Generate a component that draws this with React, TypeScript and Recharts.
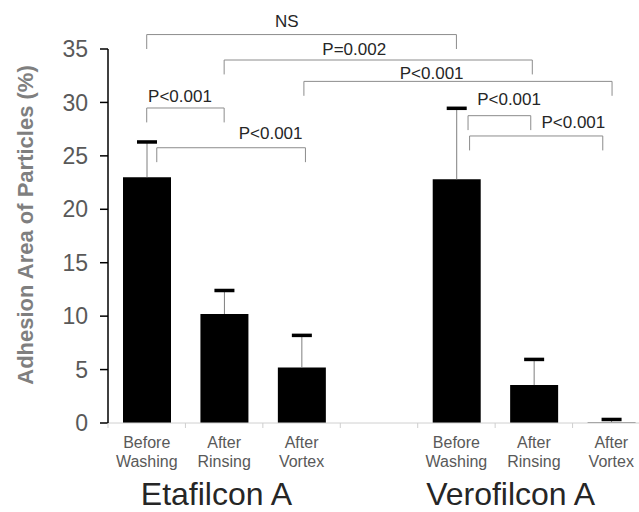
import React from 'react';
import { BarChart, Bar, XAxis, YAxis, ReferenceLine, ReferenceDot } from 'recharts';

const conditions = ['Before Washing', 'After Rinsing', 'After Vortex'];
const lenses = ['Etafilcon A', 'Verofilcon A'];
const etafilconMean = [23.0, 10.2, 5.2];
const etafilconSD = [3.3, 2.2, 3.0];
const verofilconMean = [22.8, 3.55, 0.05];
const verofilconSD = [6.65, 2.4, 0.28];
const yTicks = [0, 5, 10, 15, 20, 25, 30, 35];

// where the lens names sit, in bar slots (0..6, slot 3 is the empty gap)
const lensPos = [0.9, 4.7];

// significance brackets, x in bar slots, y in % units
const comparisons = [
  { text: 'NS', from: 0, to: 4, top: 36.35, tx: 1.81, ty: 37.6 },
  { text: 'P=0.002', from: 1, to: 4.98, top: 33.97, tx: 2.68, ty: 34.97 },
  { text: 'P<0.001', from: 2.03, to: 6.01, top: 31.97, tx: 3.68, ty: 32.72 },
  { text: 'P<0.001', from: 0, to: 1, top: 29.48, tx: 0.43, ty: 30.65 },
  { text: 'P<0.001', from: 0.13, to: 2.05, top: 25.76, tx: 1.6, ty: 27.11 },
  { text: 'P<0.001', from: 4.15, to: 4.96, top: 28.76, tx: 4.68, ty: 30.29 },
  { text: 'P<0.001', from: 4.17, to: 5.89, top: 26.86, tx: 5.51, ty: 28.2 },
];
const LEG = 1.35;

const rows = [
  ...conditions.map((c, i) => ({ key: `e${i}`, label: c, mean: etafilconMean[i], sd: etafilconSD[i] })),
  { key: 'gap', label: '', mean: null, sd: null },
  ...conditions.map((c, i) => ({ key: `v${i}`, label: c, mean: verofilconMean[i], sd: verofilconSD[i] })),
].map((r, i) => ({ ...r, slot: i }));

const FONT = '"Liberation Sans", Arial, sans-serif';
const BRACKET = '#8c8c8c';
const CHART_W = 650;
const PLOT_W = CHART_W - 108;
const HALF_BAND = PLOT_W / rows.length / 2;

function ConditionTick(props: any) {
  const { x, y, payload } = props;
  const row = rows.find((r) => r.key === payload.value);
  const words = row && row.label ? row.label.split(' ') : [];
  const half = payload.offset || 0;
  return (
    <g>
      <line x1={x - half} y1={y} x2={x - half} y2={y + 5} stroke="#cfcfcf" />
      {words.map((w: string, i: number) => (
        <text key={i} x={x} y={y + 25 + i * 19} textAnchor="middle" fontSize={16} fill="#595959" fontFamily={FONT}>
          {w}
        </text>
      ))}
    </g>
  );
}

function LensTick(props: any) {
  const { x, y, payload } = props;
  const i = lensPos.indexOf(payload.value);
  return (
    <text x={x} y={y + 27} textAnchor="middle" fontSize={32} fill="#262626" fontFamily={FONT}>
      {lenses[i]}
    </text>
  );
}

function Whisker(props: any) {
  const { x, y, width, height } = props;
  if (x == null || !height || height <= 0) return null;
  const cx = x + width / 2;
  return (
    <g>
      <line x1={cx} y1={y} x2={cx} y2={y + height} stroke="#7f7f7f" strokeWidth={1} />
      <rect x={cx - 10} y={y - 1.75} width={20} height={3.5} fill="#000" />
    </g>
  );
}

export default function App() {
  return (
    <div style={{ position: 'absolute', left: 0, top: 0, width: 639, height: 512, overflow: 'hidden', background: '#fff' }}>
      <BarChart width={CHART_W} height={512} data={rows} margin={{ top: 49, right: 0, bottom: 0, left: 0 }}>
        <XAxis
          dataKey="key"
          height={55}
          stroke="#d0d0d0"
          tickLine={false}
          tickSize={0}
          tickMargin={0}
          interval={0}
          tick={<ConditionTick />}
        />
        <XAxis
          xAxisId="grp"
          dataKey="slot"
          type="number"
          domain={[0, rows.length - 1]}
          padding={{ left: HALF_BAND, right: HALF_BAND }}
          allowDataOverflow
          ticks={lensPos}
          height={34}
          axisLine={false}
          tickLine={false}
          tickSize={0}
          tickMargin={0}
          interval={0}
          tick={<LensTick />}
        />
        <YAxis
          width={108}
          domain={[0, 35]}
          ticks={yTicks}
          interval={0}
          tickSize={8}
          tickMargin={12}
          axisLine={{ stroke: '#000', strokeWidth: 1.5 }}
          tickLine={{ stroke: '#000', strokeWidth: 1.5 }}
          tick={{ fontSize: 23, fill: '#595959', fontFamily: FONT }}
          label={{
            content: ({ viewBox }: any) => {
              const cx = viewBox.x + 33;
              const cy = viewBox.y + viewBox.height / 2 - 11;
              return (
                <text
                  x={cx}
                  y={cy}
                  transform={`rotate(-90, ${cx}, ${cy})`}
                  textAnchor="middle"
                  fontSize={22}
                  fontWeight="bold"
                  fill="#7f7f7f"
                  fontFamily={FONT}
                >
                  Adhesion Area of Particles (%)
                </text>
              );
            },
          }}
        />
        <Bar dataKey="mean" stackId="s" fill="#000" barSize={48} isAnimationActive={false} />
        <Bar dataKey="sd" stackId="s" barSize={48} shape={<Whisker />} isAnimationActive={false} />
        {comparisons.map((c, i) => [
          <ReferenceLine
            key={`l${i}`}
            xAxisId="grp"
            ifOverflow="visible"
            stroke={BRACKET}
            segment={[{ x: c.from, y: c.top - LEG }, { x: c.from, y: c.top }]}
          />,
          <ReferenceLine
            key={`t${i}`}
            xAxisId="grp"
            ifOverflow="visible"
            stroke={BRACKET}
            segment={[{ x: c.from, y: c.top }, { x: c.to, y: c.top }]}
          />,
          <ReferenceLine
            key={`r${i}`}
            xAxisId="grp"
            ifOverflow="visible"
            stroke={BRACKET}
            segment={[{ x: c.to, y: c.top }, { x: c.to, y: c.top - LEG }]}
          />,
          <ReferenceDot
            key={`d${i}`}
            xAxisId="grp"
            x={c.tx}
            y={c.ty}
            r={0}
            fill="none"
            stroke="none"
            ifOverflow="visible"
            label={{ value: c.text, position: 'center', fontSize: 17, fill: '#262626', fontFamily: FONT }}
          />,
        ])}
      </BarChart>
    </div>
  );
}
